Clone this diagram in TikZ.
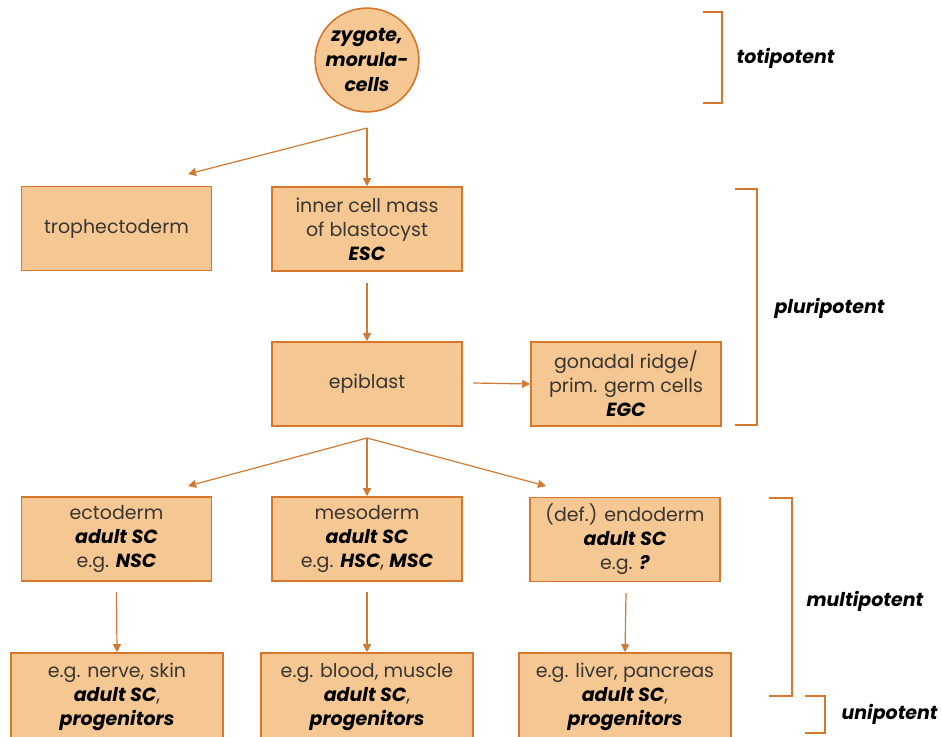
\documentclass[tikz,border=0pt]{standalone}
\usepackage{fontspec}
\setmainfont{Poppins}
\usetikzlibrary{arrows.meta}
\definecolor{boxfill}{HTML}{F5C893}
\definecolor{boxline}{HTML}{D6772C}
\definecolor{arr}{HTML}{D17A36}
\definecolor{txt}{HTML}{3A3530}
\newcommand{\bi}[1]{\textcolor{black}{\textbf{\textit{#1}}}}
\begin{document}
\begin{tikzpicture}[x=1pt,y=-1pt,
  cellbox/.style={draw=boxline,line width=1.6pt,fill=boxfill,minimum width=190pt,minimum height=84pt,
    align=center,font=\fontsize{19}{24}\selectfont,text=txt,inner sep=2pt},
  widebox/.style={cellbox,minimum width=212pt,minimum height=88pt},
  flow/.style={draw=arr,line width=1.2pt,-{Triangle[length=8pt,width=8pt]}},
  brace/.style={draw=boxline,line width=1.8pt},
  potlabel/.style={anchor=west,font=\fontsize{19}{22}\selectfont\bfseries\itshape,text=black}]
\clip (0,0) rectangle (941,736);
\fill[white] (0,0) rectangle (941,736);
\node[circle,draw=boxline,line width=1.6pt,fill=boxfill,minimum size=100pt,align=center,inner sep=0pt,
  font=\fontsize{19}{25}\selectfont\bfseries\itshape] (zyg) at (367,60) {zygote,\\morula-\\cells};
\node[cellbox] (troph) at (116.5,228.5) {trophectoderm};
\node[cellbox] (icm) at (367,229) {inner cell mass\\of blastocyst\\\bi{ESC}};
\node[cellbox] (epi) at (367,384) {epiblast};
\node[cellbox] (egc) at (626,384) {gonadal ridge/\\prim. germ cells\\\bi{EGC}};
\node[cellbox] (ecto) at (116.5,539) {ectoderm\\\bi{adult SC}\\e.g. \bi{NSC}};
\node[cellbox] (meso) at (367,539) {mesoderm\\\bi{adult SC}\\e.g. \bi{HSC}, \bi{MSC}};
\node[cellbox] (endo) at (625,539.5) {(def.) endoderm\\\bi{adult SC}\\e.g. \bi{?}};
\node[widebox] (nerve) at (117,697) {e.g. nerve, skin\\\bi{adult SC},\\\bi{progenitors}};
\node[widebox] (blood) at (367,697) {e.g. blood, muscle\\\bi{adult SC},\\\bi{progenitors}};
\node[widebox] (liver) at (625,697) {e.g. liver, pancreas\\\bi{adult SC},\\\bi{progenitors}};
% connectors
\coordinate (s1) at (367,128);
\coordinate (s2) at (367,438);
\draw[flow] (s1) -- (188,174);
\draw[flow] (s1) -- (icm.north);
\draw[flow] (367,283) -- (epi.north);
\draw[flow] (473,383) -- (egc.west);
\draw[flow] (s2) -- (188,486);
\draw[flow] (s2) -- (meso.north);
\draw[flow] (s2) -- (546,486);
\draw[flow] (116.5,592) -- (nerve.north);
\draw[flow] (367,592) -- (blood.north);
\draw[flow] (626,593) -- (liver.north);
% brackets
\draw[brace] (703,12) -- (722,12) -- (722,103) -- (703,103);
\node[potlabel] (toti) at (733,58) {totipotent};
\draw[brace] (735,189) -- (757,189) -- (757,425) -- (735,425);
\node[potlabel] (pluri) at (771,308) {pluripotent};
\draw[brace] (769,498) -- (792,498) -- (792,696) -- (769,696);
\node[potlabel] (multi) at (803,601) {multipotent};
\draw[brace] (805,696) -- (825,696) -- (825,733) -- (805,733);
\node[potlabel] (uni) at (838,714) {unipotent};
\end{tikzpicture}
\end{document}
